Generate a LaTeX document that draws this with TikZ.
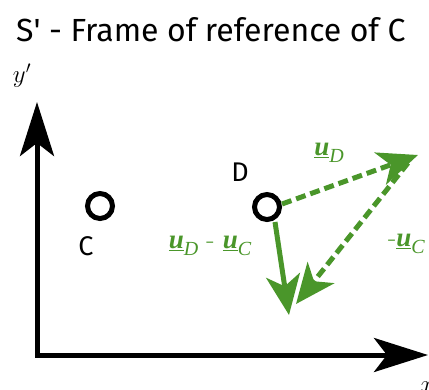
\documentclass[tikz,border=0pt]{standalone}
\usepackage{fontspec}
\setsansfont{Fira Sans}
\newfontfamily\tnr{Liberation Serif}
\usetikzlibrary{arrows.meta}
\definecolor{vgreen}{RGB}{74,150,42}
\newcommand{\myvec}[1]{\underline{\tnr\bfseries\itshape u}\raisebox{-0.25em}{\tnr\itshape\fontsize{20}{22}\selectfont #1}}
\begin{document}
\begin{tikzpicture}[x=1pt,y=-1pt,
  axis/.style={line width=5pt,-{Stealth[length=54pt,width=34pt,inset=13pt]}},
  pt/.style={circle,draw=black,line width=5pt,minimum size=25pt,inner sep=0pt},
  vec/.style={draw=vgreen,line width=5pt,-{Stealth[length=40pt,width=34pt,inset=11pt]}},
  dvec/.style={vec,dash pattern=on 10pt off 5pt},
  lbl/.style={text=vgreen,font=\fontsize{27}{30}\selectfont,inner sep=0pt},
  plain/.style={font=\sffamily\fontsize{27}{30}\selectfont,inner sep=0pt},
]
\useasboundingbox (0,0) rectangle (429,389);
\node[font=\sffamily\fontsize{32}{36}\selectfont,anchor=west,inner sep=0pt] (title) at (16,30) {S\textquotesingle\ - Frame of reference of C};
\coordinate (o) at (37,355);
\coordinate (ytip) at (37,102);
\coordinate (xtip) at (428,355);
\draw[axis] (o) -- (ytip);
\draw[axis] (o) -- (xtip);
\draw[line width=5pt] (37,357.5) -- (o);
\node[font=\fontsize{25}{28}\selectfont,inner sep=0pt] (ylab) at (22,76) {$y'$};
\node[font=\fontsize{25}{28}\selectfont,inner sep=0pt,anchor=west] (xlab) at (420,383) {$x'$};
\node[pt] (c) at (100,206) {};
\node[plain] (clab) at (86,246) {C};
\node[pt] (d) at (267,207) {};
\node[plain] (dlab) at (240,172) {D};
\coordinate (ud) at (418,155);
\coordinate (diff) at (289,315);
\coordinate (mc) at (296,304);
\draw[dvec] (d.east) ++(0,-3) coordinate (ds) (ds) -- (ud);
\draw[vec] (d.south) ++(8,0) coordinate (dd) (dd) -- (diff);
\draw[dvec] (ud) ++(-10,8) coordinate (us) (us) -- (mc);
\node[lbl] (udlab) at (329,153) {\myvec{D}};
\node[lbl] (difflab) at (210,246) {\myvec{D} - \myvec{C}};
\node[lbl,anchor=west] (uclab) at (388,244) {-\myvec{C}};
\end{tikzpicture}
\end{document}
